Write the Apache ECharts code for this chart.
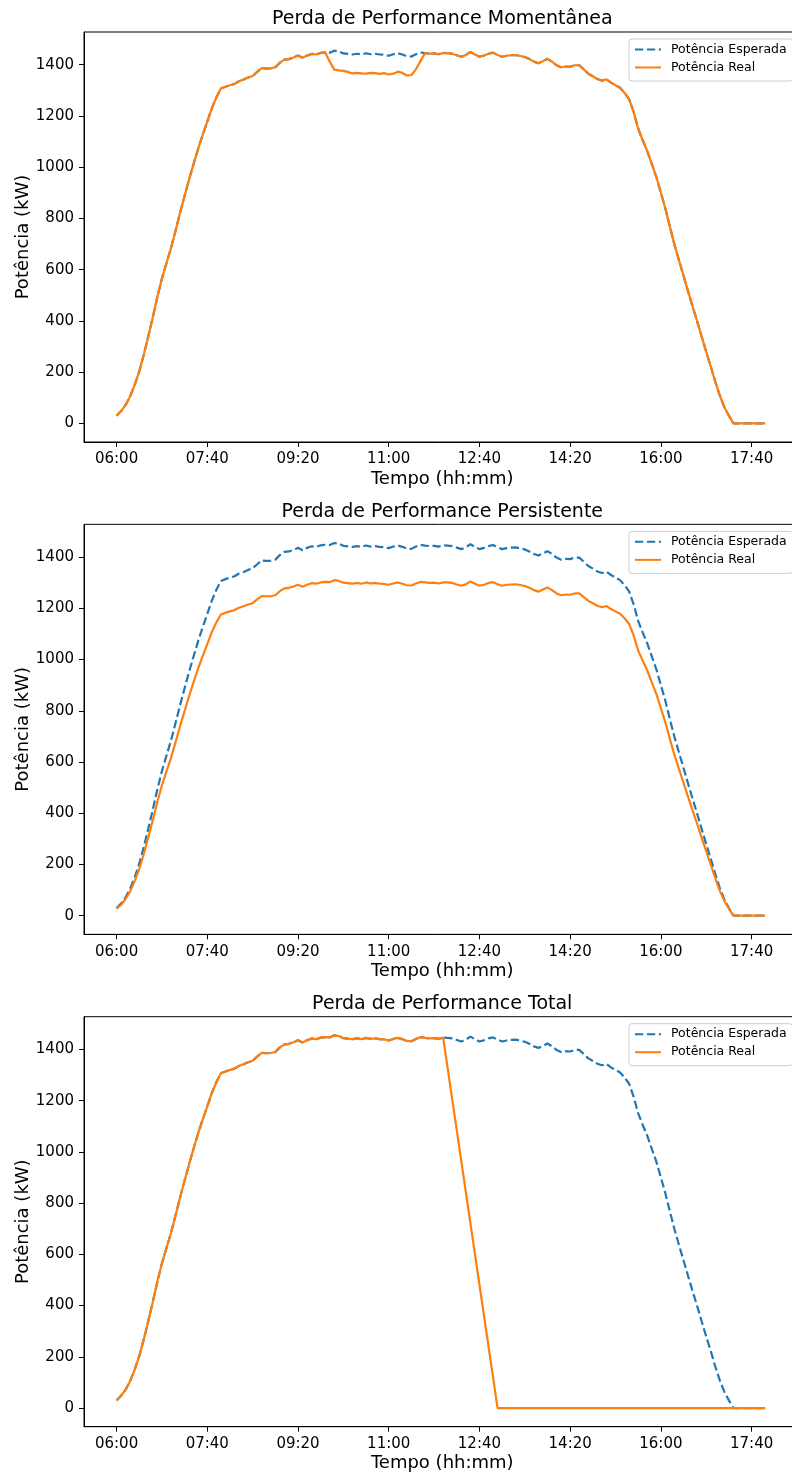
<!DOCTYPE html>
<html>
<head>
<meta charset="utf-8">
<script src="https://cdn.jsdelivr.net/npm/echarts@6/dist/echarts.min.js"></script>
<style>
  html, body { margin: 0; padding: 0; background: #ffffff; }
  #chart { width: 792px; height: 1476px; }
</style>
</head>
<body>
<div id="chart"></div>
<script>
// Samples every 5 minutes, starting at 06:00
const startTime = '06:00';
const stepMinutes = 5;

// Expected power (kW), identical in the three scenarios
const expected = [
  30, 48, 72, 106, 150, 203, 268, 340, 415, 494,
  565, 625, 684, 752, 822, 888, 953, 1014, 1073, 1127,
  1178, 1230, 1272, 1307, 1314, 1320, 1325, 1336, 1342, 1350,
  1356, 1372, 1387, 1385, 1386, 1390, 1408, 1420, 1422, 1428,
  1436, 1427, 1436, 1442, 1440, 1446, 1448, 1447, 1455, 1452,
  1444, 1442, 1440, 1443, 1440, 1445, 1441, 1443, 1440, 1439,
  1435, 1441, 1445, 1440, 1433, 1432, 1441, 1448, 1445, 1443,
  1444, 1441, 1446, 1445, 1443, 1437, 1431, 1438, 1450, 1440,
  1431, 1436, 1443, 1447, 1438, 1431, 1435, 1437, 1438, 1434,
  1430, 1422, 1412, 1406, 1414, 1423, 1412, 1398, 1390, 1393,
  1392, 1398, 1398, 1382, 1365, 1355, 1344, 1338, 1343, 1330,
  1320, 1310, 1290, 1266, 1215, 1150, 1105, 1063, 1012, 962,
  900, 838, 766, 697, 636, 576, 515, 456, 398, 338,
  279, 222, 162, 108, 63, 30, 0, 0, 0, 0,
  0, 0, 0, 0
];

// Real power, momentary loss (late morning dip)
const realMomentanea = [
  30, 48, 72, 106, 150, 203, 268, 340, 415, 494,
  565, 625, 684, 752, 822, 888, 953, 1014, 1073, 1127,
  1178, 1230, 1272, 1307, 1314, 1320, 1325, 1336, 1342, 1350,
  1356, 1372, 1387, 1385, 1386, 1390, 1408, 1420, 1422, 1428,
  1436, 1427, 1436, 1442, 1440, 1446, 1448, 1412, 1381, 1378,
  1376, 1372, 1366, 1368, 1366, 1365, 1368, 1367, 1364, 1367,
  1362, 1365, 1373, 1368, 1358, 1360, 1382, 1414, 1445, 1443,
  1444, 1441, 1446, 1445, 1443, 1437, 1431, 1438, 1450, 1440,
  1431, 1436, 1443, 1447, 1438, 1431, 1435, 1437, 1438, 1434,
  1430, 1422, 1412, 1406, 1414, 1423, 1412, 1398, 1390, 1393,
  1392, 1398, 1398, 1382, 1365, 1355, 1344, 1338, 1343, 1330,
  1320, 1310, 1290, 1266, 1215, 1150, 1105, 1063, 1012, 962,
  900, 838, 766, 697, 636, 576, 515, 456, 398, 338,
  279, 222, 162, 108, 63, 30, 0, 0, 0, 0,
  0, 0, 0, 0
];

// Real power, persistent loss (whole day below expected)
const realPersistente = [
  27, 43, 65, 95, 135, 183, 241, 306, 374, 445,
  509, 563, 616, 677, 740, 799, 858, 913, 966, 1014,
  1060, 1107, 1145, 1176, 1183, 1188, 1193, 1202, 1208, 1215,
  1220, 1235, 1248, 1247, 1247, 1251, 1267, 1278, 1280, 1285,
  1292, 1284, 1292, 1298, 1296, 1301, 1303, 1302, 1310, 1307,
  1300, 1298, 1296, 1299, 1296, 1301, 1297, 1299, 1296, 1295,
  1292, 1297, 1301, 1296, 1290, 1289, 1297, 1303, 1301, 1299,
  1300, 1297, 1301, 1301, 1299, 1293, 1288, 1294, 1305, 1296,
  1288, 1292, 1299, 1302, 1294, 1288, 1292, 1293, 1294, 1291,
  1287, 1280, 1271, 1265, 1273, 1281, 1271, 1258, 1251, 1254,
  1253, 1258, 1258, 1244, 1229, 1220, 1210, 1204, 1209, 1197,
  1188, 1179, 1161, 1139, 1094, 1035, 995, 957, 911, 866,
  810, 754, 689, 627, 572, 518, 464, 410, 358, 304,
  251, 200, 146, 97, 57, 27, 0, 0, 0, 0,
  0, 0, 0, 0
];

// Real power, total loss (plant stops after noon; no samples during the shutdown)
const realTotal = [
  30, 48, 72, 106, 150, 203, 268, 340, 415, 494,
  565, 625, 684, 752, 822, 888, 953, 1014, 1073, 1127,
  1178, 1230, 1272, 1307, 1314, 1320, 1325, 1336, 1342, 1350,
  1356, 1372, 1387, 1385, 1386, 1390, 1408, 1420, 1422, 1428,
  1436, 1427, 1436, 1442, 1440, 1446, 1448, 1447, 1455, 1452,
  1444, 1442, 1440, 1443, 1440, 1445, 1441, 1443, 1440, 1439,
  1435, 1441, 1445, 1440, 1433, 1432, 1441, 1448, 1445, 1443,
  1444, 1441, 1446, null, null, null, null, null, null, null,
  null, null, null, null, 0, 0, 0, 0, 0, 0,
  0, 0, 0, 0, 0, 0, 0, 0, 0, 0,
  0, 0, 0, 0, 0, 0, 0, 0, 0, 0,
  0, 0, 0, 0, 0, 0, 0, 0, 0, 0,
  0, 0, 0, 0, 0, 0, 0, 0, 0, 0,
  0, 0, 0, 0, 0, 0, 0, 0, 0, 0,
  0, 0, 0, 0
];

const titles = [
  'Perda de Performance Momentânea',
  'Perda de Performance Persistente',
  'Perda de Performance Total'
];
const realSeries = [realMomentanea, realPersistente, realTotal];
const seriesNames = ['Potência Esperada', 'Potência Real'];
const xTickLabels = ['06:00', '07:40', '09:20', '11:00', '12:40', '14:20', '16:00', '17:40'];
const yTicks = [0, 200, 400, 600, 800, 1000, 1200, 1400];

const FONT = 'DejaVu Sans';
const BLUE = '#1f77b4';
const ORANGE = '#ff7f0e';

function toMinutes(hhmm) {
  const [h, m] = hhmm.split(':').map(Number);
  return h * 60 + m;
}
function fmt(mins) {
  const h = Math.floor(mins / 60), m = Math.round(mins % 60);
  return String(h).padStart(2, '0') + ':' + String(m).padStart(2, '0');
}
const t0 = toMinutes(startTime);
const times = expected.map((_, i) => t0 + i * stepMinutes);
const xTickValues = xTickLabels.map(toMinutes);
const pairs = arr => times.map((t, i) => [t, arr[i]]).filter(p => p[1] !== null);

// axis ranges: data span plus 5% padding on each side
const xMin = t0 - 0.05 * 718;
const xMax = t0 + 718 * 1.05;
const yMin = -0.05 * 1455;
const yMax = 1455 * 1.05;

const GRID_LEFT = 84;
const GRID_W = 716.5;
const GRID_H = 410;
const GRID_TOPS = [32, 524.35, 1016.7];

const option = {
  animation: false,
  backgroundColor: '#ffffff',
  title: GRID_TOPS.map((top, k) => ({
    text: titles[k],
    left: GRID_LEFT + GRID_W / 2,
    top: top - 22,
    textAlign: 'center',
    padding: 0,
    textStyle: { fontFamily: FONT, fontSize: 19, fontWeight: 'normal', color: '#000' }
  })),
  legend: GRID_TOPS.map((top) => ({
    orient: 'vertical',
    left: 629,
    top: top + 7,
    padding: [4, 6, 7, 5],
    itemWidth: 26,
    itemHeight: 14,
    itemGap: 5,
    backgroundColor: 'rgba(255,255,255,0.8)',
    borderColor: '#cccccc',
    borderWidth: 1,
    borderRadius: 3,
    selectedMode: false,
    itemStyle: { opacity: 0 },
    textStyle: { fontFamily: FONT, fontSize: 12.5, color: '#000', padding: [0, 0, 0, 5] },
    data: seriesNames
  })),
  grid: GRID_TOPS.map(top => ({
    left: GRID_LEFT, top: top, width: GRID_W, height: GRID_H,
    show: true, borderColor: '#000', borderWidth: 1,
    containLabel: false, outerBoundsMode: 'none'
  })),
  xAxis: GRID_TOPS.map((_, k) => ({
    type: 'value', gridIndex: k, min: xMin, max: xMax,
    name: 'Tempo (hh:mm)', nameLocation: 'middle', nameGap: 28, nameMoveOverlap: false,
    nameTextStyle: { fontFamily: FONT, fontSize: 18, color: '#000' },
    axisLine: { show: true, onZero: false, lineStyle: { color: '#000', width: 1 } },
    axisTick: { show: true, inside: false, length: 5, customValues: xTickValues, lineStyle: { color: '#000', width: 1 } },
    axisLabel: { customValues: xTickValues, formatter: v => fmt(v), fontFamily: FONT, fontSize: 15, color: '#000', margin: 10 },
    splitLine: { show: false }
  })),
  yAxis: GRID_TOPS.map((_, k) => ({
    type: 'value', gridIndex: k, min: yMin, max: yMax,
    name: 'Potência (kW)', nameLocation: 'middle', nameGap: 52, nameMoveOverlap: false,
    nameTextStyle: { fontFamily: FONT, fontSize: 18, color: '#000' },
    axisLine: { show: true, onZero: false, lineStyle: { color: '#000', width: 1 } },
    axisTick: { show: true, inside: false, length: 5, customValues: yTicks, lineStyle: { color: '#000', width: 1 } },
    axisLabel: { customValues: yTicks, formatter: v => String(v), fontFamily: FONT, fontSize: 15, color: '#000', margin: 10 },
    splitLine: { show: false }
  })),
  series: []
};

GRID_TOPS.forEach((_, k) => {
  option.series.push({
    name: seriesNames[0], type: 'line', xAxisIndex: k, yAxisIndex: k,
    data: pairs(expected), symbol: 'none', silent: true,
    itemStyle: { color: BLUE },
    lineStyle: { color: BLUE, width: 2.2, type: [8.3, 3.6] },
    emphasis: { disabled: true }
  });
  option.series.push({
    name: seriesNames[1], type: 'line', xAxisIndex: k, yAxisIndex: k,
    data: pairs(realSeries[k]), symbol: 'none', silent: true, connectNulls: true,
    itemStyle: { color: ORANGE },
    lineStyle: { color: ORANGE, width: 2.2 },
    emphasis: { disabled: true }
  });
});

const chart = echarts.init(document.getElementById('chart'), null, { renderer: 'canvas' });
chart.setOption(option);
</script>
</body>
</html>
